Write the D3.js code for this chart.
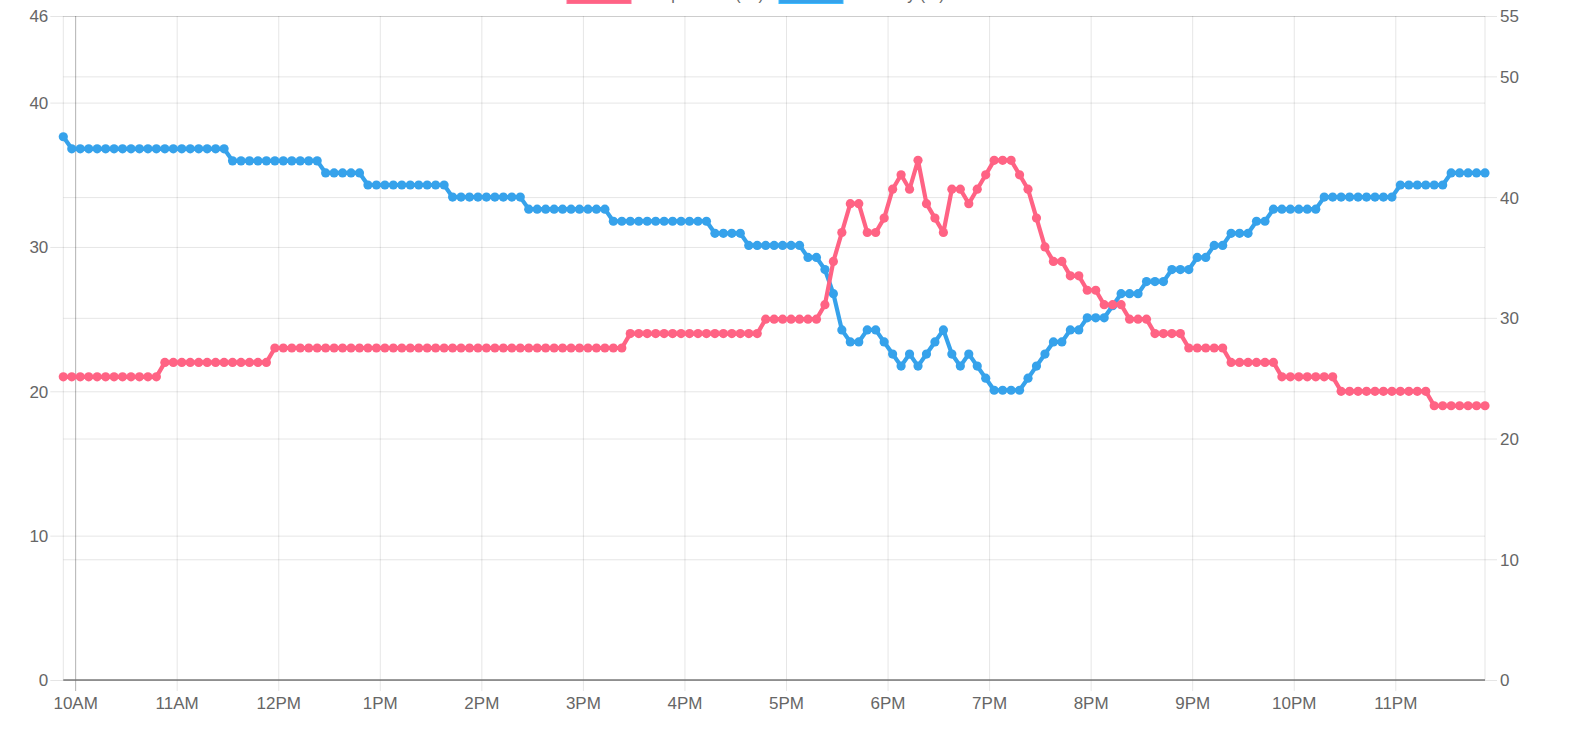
<!DOCTYPE html>
<html>
<head>
<meta charset="utf-8">
<title>Temperature / Humidity</title>
<script src="https://cdn.jsdelivr.net/npm/d3@7"></script>
<style>
  html, body { margin: 0; padding: 0; background: #fff; overflow: hidden; }
  svg text { font-family: "Liberation Sans", Arial, Helvetica, sans-serif; fill: #666; }
</style>
</head>
<body>
<div id="chart"></div>
<script>
'use strict';

// readings every 5 minutes, first one at 9:53
var startTime = "2020-06-01T09:53:00";
var stepMinutes = 5;

var seriesNames = ["Temperature (°C)", "Humidity (%)"];
var seriesColors = ["#ff6384", "#36a2eb"];

var temperature = [
  21,21,21,21,21,21,21,21,21,21,21,21,
  22,22,22,22,22,22,22,22,22,22,22,22,22,
  23,23,23,23,23,23,23,23,23,23,
  23,23,23,23,23,23,23,23,23,23,
  23,23,23,23,23,23,23,23,23,23,
  23,23,23,23,23,23,23,23,23,23,23,23,
  24,24,24,24,24,24,24,24,24,24,24,24,24,24,24,24,
  25,25,25,25,25,25,25,
  26,29,31,33,33,31,31,32,34,35,34,36,33,32,31,34,34,33,34,35,36,36,36,35,34,32,30,29,29,28,28,27,27,26,26,26,25,25,25,24,24,24,24,
  23,23,23,23,23,
  22,22,22,22,22,22,
  21,21,21,21,21,21,21,
  20,20,20,20,20,20,20,20,20,20,20,
  19,19,19,19,19,19,19
];

var humidity = [
  45,
  44,44,44,44,44,44,44,44,44,44,44,44,44,44,44,44,44,44,44,
  43,43,43,43,43,43,43,43,43,43,43,
  42,42,42,42,42,
  41,41,41,41,41,41,41,41,41,41,
  40,40,40,40,40,40,40,40,40,
  39,39,39,39,39,39,39,39,39,39,
  38,38,38,38,38,38,38,38,38,38,38,38,
  37,37,37,37,
  36,36,36,36,36,36,36,
  35,35,
  34,32,29,28,28,29,29,28,27,26,27,26,27,28,29,27,26,27,26,25,24,24,24,24,25,26,27,28,28,29,29,30,30,30,31,32,32,32,33,33,33,34,34,34,35,35,36,36,37,37,37,
  38,38,
  39,39,39,39,39,39,
  40,40,40,40,40,40,40,40,40,
  41,41,41,41,41,41,
  42,42,42,42,42
];

var leftTicks = [0, 10, 20, 30, 40, 46];
var rightTicks = [0, 10, 20, 30, 40, 50, 55];

var width = 1585, height = 743;
var plot = {left: 63.3, right: 1485, top: 16, bottom: 680};

var t0 = new Date(startTime);
var times = temperature.map(function (d, i) {
  return d3.timeMinute.offset(t0, i * stepMinutes);
});

var svg = d3.select("#chart").append("svg")
  .attr("width", width)
  .attr("height", height);

var x = d3.scaleTime()
  .domain(d3.extent(times))
  .range([plot.left, plot.right]);

var yLeft = d3.scaleLinear().domain([0, 46]).range([plot.bottom, plot.top]);
var yRight = d3.scaleLinear().domain([0, 55]).range([plot.bottom, plot.top]);

var grid = "rgba(0,0,0,0.1)";

// horizontal grid, both axes
var leftAxis = d3.axisLeft(yLeft).tickValues(leftTicks).tickSize(plot.right - plot.left + 13).tickPadding(2);
var gL = svg.append("g")
  .attr("transform", "translate(" + plot.right + ",0)")
  .call(leftAxis);
gL.select(".domain").remove();
gL.selectAll("line").attr("stroke", grid);
gL.selectAll("text")
  .attr("x", plot.left - plot.right - 15)
  .attr("dy", "0.35em")
  .style("font-size", "17px");

var rightAxis = d3.axisRight(yRight).tickValues(rightTicks).tickSize(plot.right - plot.left + 12).tickPadding(2);
var gR = svg.append("g")
  .attr("transform", "translate(" + plot.left + ",0)")
  .call(rightAxis);
gR.select(".domain").remove();
gR.selectAll("line").attr("stroke", grid);
gR.selectAll("text")
  .attr("x", plot.right - plot.left + 15)
  .attr("dy", "0.35em")
  .style("font-size", "17px");

// vertical grid + hour labels
var xAxis = d3.axisBottom(x)
  .ticks(d3.timeHour.every(1))
  .tickFormat(d3.timeFormat("%-I%p"))
  .tickSize(plot.bottom - plot.top + 11)
  .tickPadding(6);
var gX = svg.append("g")
  .attr("transform", "translate(0," + plot.top + ")")
  .call(xAxis);
gX.select(".domain").remove();
gX.selectAll("line").attr("stroke", function (d) {
  return d.getHours() === 10 ? "rgba(0,0,0,0.3)" : grid;
});
gX.selectAll("text").style("font-size", "17px");

// plot borders
svg.append("line")
  .attr("x1", plot.left).attr("x2", plot.left)
  .attr("y1", plot.top).attr("y2", plot.bottom)
  .attr("stroke", grid);
svg.append("line")
  .attr("x1", plot.right).attr("x2", plot.right)
  .attr("y1", plot.top).attr("y2", plot.bottom)
  .attr("stroke", grid);
svg.append("line")
  .attr("x1", plot.left).attr("x2", plot.right)
  .attr("y1", plot.bottom).attr("y2", plot.bottom)
  .attr("stroke", "#7a7a7a")
  .attr("stroke-width", 1.6);

// series, humidity first so temperature sits on top
var series = [
  {values: humidity, y: yRight, color: seriesColors[1]},
  {values: temperature, y: yLeft, color: seriesColors[0]}
];

series.forEach(function (s) {
  var line = d3.line()
    .x(function (d, i) { return x(times[i]); })
    .y(function (d) { return s.y(d); });

  var g = svg.append("g");
  g.append("path")
    .datum(s.values)
    .attr("fill", "none")
    .attr("stroke", s.color)
    .attr("stroke-width", 4.2)
    .attr("stroke-linejoin", "round")
    .attr("d", line);

  g.selectAll("circle")
    .data(s.values)
    .enter()
    .append("circle")
    .attr("cx", function (d, i) { return x(times[i]); })
    .attr("cy", function (d) { return s.y(d); })
    .attr("r", 4.6)
    .attr("fill", s.color);
});

// legend, mostly cut off at the top of the page (as in the original)
var legendX = [567, 779];
var legend = svg.append("g");
seriesNames.forEach(function (name, i) {
  legend.append("rect")
    .attr("x", legendX[i]).attr("y", -12.5)
    .attr("width", 64).attr("height", 16)
    .attr("fill", seriesColors[i])
    .attr("stroke", d3.color(seriesColors[i]).brighter(0.4))
    .attr("stroke-width", 1);
  legend.append("text")
    .attr("x", legendX[i] + 74)
    .attr("y", -0.5)
    .style("font-size", "16px")
    .text(name);
});
</script>
</body>
</html>
